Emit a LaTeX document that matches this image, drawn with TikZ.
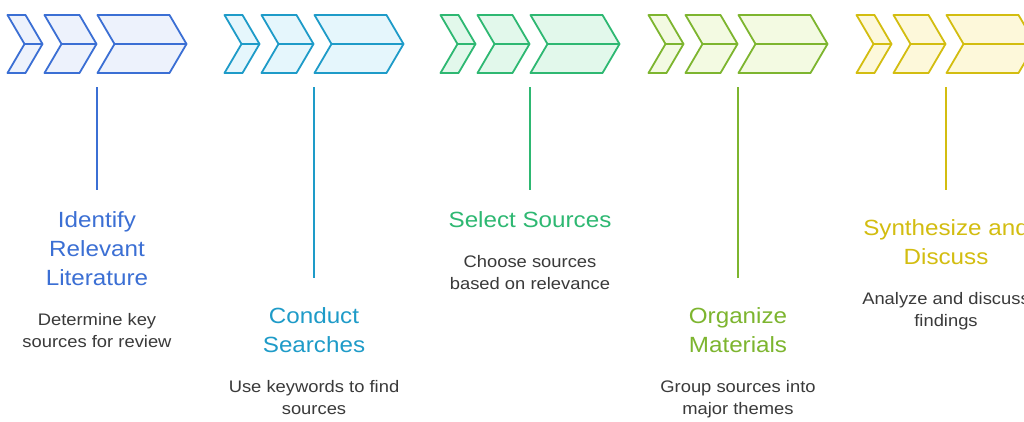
\documentclass[tikz,border=0pt]{standalone}
\usepackage{fontspec}
\setmainfont[FakeStretch=1.1]{Liberation Sans}
\usepackage{xcolor}
\usetikzlibrary{positioning}

\definecolor{stepblue}{HTML}{3B6FD4}
\definecolor{lightblue}{HTML}{EDF2FC}
\definecolor{stepcyan}{HTML}{1E9BC8}
\definecolor{lightcyan}{HTML}{E5F6FC}
\definecolor{stepgreen}{HTML}{2EB872}
\definecolor{lightgreen}{HTML}{E2F8EB}
\definecolor{stepolive}{HTML}{7DB52F}
\definecolor{lightolive}{HTML}{F3FAE2}
\definecolor{stepyellow}{HTML}{D3BD10}
\definecolor{lightyellow}{HTML}{FDF8DA}
\definecolor{desctext}{HTML}{3A3A3A}

\tikzset{
    chevron/.style={line width=1.8pt, line join=round},
    stem/.style={line width=2pt},
    steptitle/.style={align=center, inner sep=0pt, font=\fontsize{22}{29}\selectfont},
    stepdesc/.style={align=center, inner sep=0pt, text=desctext, font=\fontsize{16.7}{21.5}\selectfont},
}

\begin{document}
\begin{tikzpicture}[x=1pt, y=-1pt]
        \clip (0,0) rectangle (1024,421);
        \fill[white] (0,0) rectangle (1024,421);

        % three chevrons per step, each split into an upper and a lower half
        \foreach \cx/\col in {97/blue, 314/cyan, 530/green, 738/olive, 946/yellow} {
            \foreach \a/\b in {-89.5/-71.5, -52.5/-17.5, 0.5/72.5} {
                \draw[chevron, draw=step\col, fill=light\col]
                    (\cx+\a,15) -- (\cx+\b,15) -- (\cx+\b+17,44) -- (\cx+\a+17,44) -- cycle
                    (\cx+\a+17,44) -- (\cx+\b+17,44) -- (\cx+\b,73) -- (\cx+\a,73) -- cycle;
            }
            \coordinate (tip\col) at (\cx,87);
        }

        \node[steptitle, text=stepblue] (title1) at (97,249) {Identify\\Relevant\\Literature};
        \node[stepdesc, below=27pt of title1] (desc1) {Determine key\\sources for review};

        \node[steptitle, text=stepcyan] (title2) at (314,330.5) {Conduct\\Searches};
        \node[stepdesc, below=27pt of title2] (desc2) {Use keywords to find\\sources};

        \node[steptitle, text=stepgreen] (title3) at (530,220) {Select Sources};
        \node[stepdesc, below=27pt of title3] (desc3) {Choose sources\\based on relevance};

        \node[steptitle, text=stepolive] (title4) at (738,330.5) {Organize\\Materials};
        \node[stepdesc, below=27pt of title4] (desc4) {Group sources into\\major themes};

        \node[steptitle, text=stepyellow] (title5) at (946,242.5) {Synthesize and\\Discuss};
        \node[stepdesc, below=27pt of title5] (desc5) {Analyze and discuss\\findings};

        % stems from the chevrons down to each title
        \foreach \col/\i/\gap in {blue/1/22pt, cyan/2/30pt, green/3/22pt, olive/4/30pt, yellow/5/30pt}
            \draw[stem, draw=step\col, shorten >=\gap] (tip\col) -- (title\i);
\end{tikzpicture}
\end{document}
